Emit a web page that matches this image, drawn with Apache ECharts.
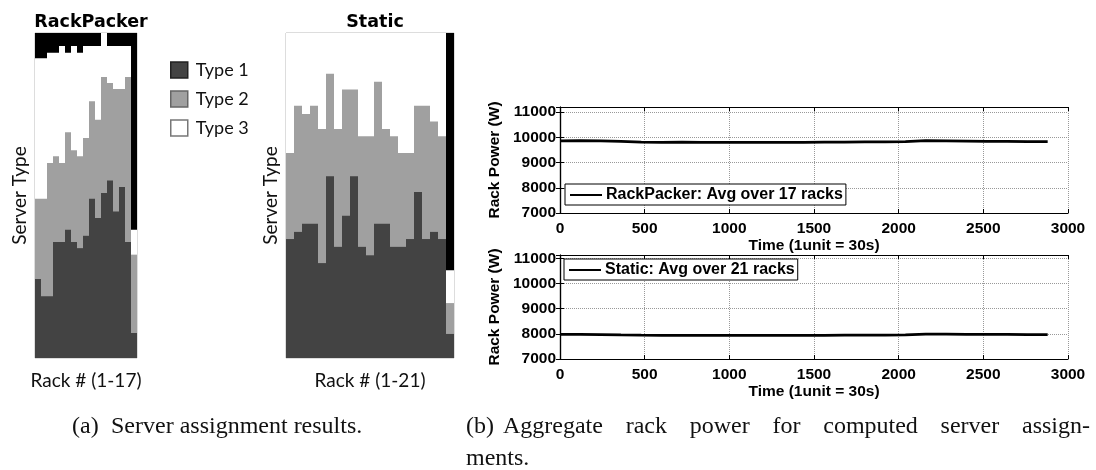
<!DOCTYPE html>
<html>
<head>
<meta charset="utf-8">
<script src="https://cdn.jsdelivr.net/npm/echarts@6/dist/echarts.min.js"></script>
<style>
  html, body { margin: 0; padding: 0; background: #fff; }
  #chart { width: 1096px; height: 470px; }
</style>
</head>
<body>
<div id="chart"></div>
<script>
// rack categories
const rpRacks = ['1', '2', '3', '4', '5', '6', '7', '8', '9', '10', '11', '12', '13', '14', '15', '16', '17']
const stRacks = ['1', '2', '3', '4', '5', '6', '7', '8', '9', '10', '11', '12', '13', '14', '15', '16', '17', '18', '19', '20', '21']

// RackPacker: top of each band, % of rack height (bottom up: type 1, type 2, type 3, empty)
const rpType1Top = [24.3, 19.0, 19.0, 35.7, 35.7, 39.5, 35.7, 33.8, 37.6, 49.0, 43.1, 50.8, 54.6, 45.1, 52.6, 35.7, 7.7]
const rpType2Top = [49.0, 49.0, 60.0, 62.1, 60.0, 69.5, 63.9, 62.1, 67.7, 79.0, 73.3, 86.5, 84.6, 82.8, 82.8, 86.5, 31.8]
const rpType3Top = [92.2, 92.2, 93.9, 93.9, 96.0, 93.9, 96.0, 93.9, 96.0, 96.0, 96.0, 100, 96.0, 96.0, 96.0, 96.0, 39.5]
const rpCapacity = [100, 100, 100, 100, 100, 100, 100, 100, 100, 100, 100, 100, 100, 100, 100, 100, 100]

// Static
const stType1Top = [36.6, 38.8, 41.3, 41.3, 29.2, 55.9, 34.2, 43.8, 55.9, 34.2, 31.6, 41.3, 41.3, 34.2, 34.2, 36.6, 51.1, 36.6, 38.8, 36.6, 7.4]
const stType2Top = [63.1, 77.6, 75.1, 77.6, 70.5, 87.5, 70.5, 82.6, 82.6, 68.2, 68.2, 85.0, 70.5, 68.2, 63.1, 63.1, 77.6, 77.6, 72.8, 68.2, 16.9]
const stType3Top = [100, 100, 100, 100, 100, 100, 100, 100, 100, 100, 100, 100, 100, 100, 100, 100, 100, 100, 100, 100, 27.0]
const stCapacity = [100, 100, 100, 100, 100, 100, 100, 100, 100, 100, 100, 100, 100, 100, 100, 100, 100, 100, 100, 100, 100]

// aggregate rack power (W) over time (1 unit = 30 s)
const timeUnits = [0, 120, 240, 360, 480, 600, 720, 840, 960, 1080, 1200, 1320, 1440, 1560, 1680, 1800, 1920, 2040, 2160, 2280, 2400, 2520, 2640, 2760, 2880]
const rpPower = [9860, 9865, 9860, 9840, 9810, 9800, 9805, 9795, 9800, 9795, 9800, 9800, 9795, 9805, 9810, 9815, 9820, 9830, 9865, 9860, 9850, 9840, 9835, 9830, 9825]
const stPower = [7975, 7975, 7970, 7955, 7945, 7940, 7940, 7935, 7940, 7935, 7935, 7940, 7935, 7940, 7945, 7950, 7950, 7955, 7990, 7985, 7980, 7975, 7975, 7970, 7970]
const powerTicks = [7000, 8000, 9000, 10000, 11000]

// captions
const capA = ['(a)', 'Server assignment results.']
const capB = ['(b)', 'Aggregate', 'rack', 'power', 'for', 'computed', 'server', 'assign-']
const capB2 = 'ments.'

const DARK = '#434343'
const GRAY = '#a0a0a0'
const gill = 'Lato, "Open Sans", sans-serif'
const heavy = '"DejaVu Sans", sans-serif'
const helv = '"Liberation Sans", Arial, sans-serif'
const serifFont = '24px "Liberation Serif", "Times New Roman", serif'

const chart = echarts.init(document.getElementById('chart'))

const rackX = (idx, cats, name) => ({
  type: 'category',
  gridIndex: idx,
  data: cats,
  axisLine: { show: false },
  axisTick: { show: false },
  axisLabel: { show: false },
  name: name,
  nameLocation: 'middle',
  nameGap: 13,
  nameTextStyle: { fontFamily: gill, fontSize: 19, color: '#111' },
})
const rackY = (idx) => ({
  type: 'value',
  gridIndex: idx,
  min: 0,
  max: 100,
  axisLine: { show: false },
  axisTick: { show: false },
  axisLabel: { show: false },
  splitLine: { show: false },
  name: 'Server Type',
  nameLocation: 'middle',
  nameGap: 6,
  nameTextStyle: { fontFamily: gill, fontSize: 19, color: '#111' },
})
const timeX = (idx, top) => ({
  type: 'value',
  gridIndex: idx,
  position: top ? 'top' : 'bottom',
  min: 0,
  max: 3000,
  interval: 500,
  axisLine: { show: true, lineStyle: { color: '#000', width: 1.2 } },
  axisTick: { show: true, inside: true, length: 4, lineStyle: { color: '#000' } },
  axisLabel: { show: !top, margin: 8, fontFamily: helv, fontWeight: 'bold', fontSize: 15.5, color: '#000', formatter: (v) => String(v) },
  splitLine: { show: !top, lineStyle: { color: '#999', type: 'dotted', width: 1 } },
  name: top ? '' : 'Time (1unit = 30s)',
  nameLocation: 'middle',
  nameGap: 23,
  nameTextStyle: { fontFamily: helv, fontWeight: 'bold', fontSize: 15.5, color: '#000' },
})
const powerY = (idx, right, max) => ({
  type: 'value',
  gridIndex: idx,
  position: right ? 'right' : 'left',
  min: 7000,
  max: max,
  interval: 1000,
  axisLine: { show: true, lineStyle: { color: '#000', width: 1.2 } },
  axisTick: { show: true, inside: true, length: 4, lineStyle: { color: '#000' } },
  axisLabel: {
    show: !right,
    margin: 4,
    fontFamily: helv,
    fontWeight: 'bold',
    fontSize: 15.5,
    color: '#000',
    formatter: (v) => (powerTicks.indexOf(v) >= 0 ? String(v) : ''),
  },
  splitLine: { show: !right, lineStyle: { color: '#999', type: 'dotted', width: 1 } },
  name: right ? '' : 'Rack Power (W)',
  nameLocation: 'middle',
  nameGap: 57,
  nameTextStyle: { fontFamily: helv, fontWeight: 'bold', fontSize: 15.5, color: '#000' },
})

const band = (name, axis, data, color) => ({
  name: name,
  type: 'bar',
  xAxisIndex: axis,
  yAxisIndex: axis,
  data: data,
  barGap: '-100%',
  barCategoryGap: '0%',
  itemStyle: { color: color },
  emphasis: { disabled: true },
})
const powerLine = (name, axis, values) => ({
  name: name,
  type: 'line',
  xAxisIndex: axis,
  yAxisIndex: axis,
  data: timeUnits.map((t, i) => [t, values[i]]),
  showSymbol: false,
  symbol: 'none',
  lineStyle: { color: '#000', width: 2.8 },
  itemStyle: { color: '#000' },
})

const boxLegend = (name, left, top) => ({
  data: [{ name: name, icon: 'rect' }],
  left: left,
  top: top,
  padding: [3, 3, 2, 5],
  itemWidth: 32,
  itemHeight: 2,
  borderColor: '#000',
  borderWidth: 1,
  borderRadius: 0,
  backgroundColor: '#fff',
  selectedMode: false,
  textStyle: { fontFamily: helv, fontWeight: 'bold', fontSize: 16, color: '#000', padding: [0, 0, 0, -1] },
})

// caption words placed like the justified LaTeX caption
const ctx = document.createElement('canvas').getContext('2d')
ctx.font = serifFont
const wordW = (w) => ctx.measureText(w).width
const captionText = (x, y, text) => ({
  type: 'text',
  style: { x: x, y: y, text: text, font: serifFont, fill: '#111', textVerticalAlign: 'middle' },
})
const captions = []
captions.push(captionText(72, 427, capA[0]))
captions.push(captionText(111, 427, capA[1]))
const bStart = 466
const bEnd = 1090
captions.push(captionText(bStart, 427, capB[0]))
const bWords = capB.slice(1)
const bFirst = bStart + wordW(capB[0]) + 9
const bTotal = bWords.reduce((s, w) => s + wordW(w), 0)
const bSpace = (bEnd - bFirst - bTotal) / (bWords.length - 1)
let bx = bFirst
bWords.forEach((w) => {
  captions.push(captionText(bx, 427, w))
  bx += wordW(w) + bSpace
})
captions.push(captionText(bStart, 459, capB2))

const option = {
  animation: false,
  backgroundColor: '#fff',
  title: [
    { text: 'RackPacker', left: 86, top: 8, textAlign: 'center', textStyle: { fontFamily: heavy, fontWeight: 'bold', fontSize: 17.5, color: '#000' } },
    { text: 'Static', left: 370, top: 8, textAlign: 'center', textStyle: { fontFamily: heavy, fontWeight: 'bold', fontSize: 17.5, color: '#000' } },
  ],
  legend: [
    {
      data: [
        { name: 'Type 1', itemStyle: { borderColor: '#222', borderWidth: 1.5 } },
        { name: 'Type 2', itemStyle: { borderColor: '#666', borderWidth: 1.5 } },
        { name: 'Type 3', itemStyle: { borderColor: '#777', borderWidth: 1.5 } },
      ],
      orient: 'vertical',
      left: 170,
      top: 61,
      padding: 0,
      icon: 'rect',
      itemWidth: 17,
      itemHeight: 16,
      itemGap: 11,
      selectedMode: false,
      textStyle: { fontFamily: gill, fontSize: 18, color: '#111', padding: [0, 0, 0, 3] },
    },
    boxLegend('RackPacker: Avg over 17 racks', 565, 184),
    boxLegend('Static: Avg over 21 racks', 564, 259),
  ],
  grid: [
    // whole-pixel column widths (6 px and 8 px) so neighbouring bars meet without seams
    { left: 35, top: 33, width: 102, height: 325, show: true, borderColor: '#bbb', borderWidth: 1 },
    { left: 286, top: 33, width: 168, height: 325, show: true, borderColor: '#bbb', borderWidth: 1 },
    { left: 560, top: 107, width: 508, height: 106 },
    { left: 560, top: 255, width: 508, height: 104 },
  ],
  xAxis: [
    rackX(0, rpRacks, 'Rack # (1-17)'),
    rackX(1, stRacks, 'Rack # (1-21)'),
    timeX(2, false),
    timeX(2, true),
    timeX(3, false),
    timeX(3, true),
  ],
  yAxis: [
    rackY(0),
    rackY(1),
    powerY(2, false, 11200),
    powerY(2, true, 11200),
    powerY(3, false, 11130),
    powerY(3, true, 11130),
  ],
  series: [
    band('Empty', 0, rpCapacity, '#000'),
    band('Type 3', 0, rpType3Top, '#fff'),
    band('Type 2', 0, rpType2Top, GRAY),
    band('Type 1', 0, rpType1Top, DARK),
    band('Empty', 1, stCapacity, '#000'),
    band('Type 3', 1, stType3Top, '#fff'),
    band('Type 2', 1, stType2Top, GRAY),
    band('Type 1', 1, stType1Top, DARK),
    powerLine('RackPacker: Avg over 17 racks', 2, rpPower),
    powerLine('Static: Avg over 21 racks', 4, stPower),
  ],
  graphic: captions,
}

chart.setOption(option)
</script>
</body>
</html>
